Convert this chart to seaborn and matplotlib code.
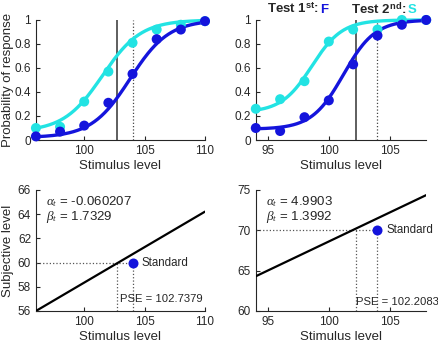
import numpy as np
import pandas as pd
import matplotlib
matplotlib.use('Agg')
import matplotlib.pyplot as plt
import seaborn as sns

# colours of the two presentation orders
col_first = '#1414DC'   # Test 1st: F
col_second = '#22E3E3'  # Test 2nd: S

# top left panel: proportions
x_left = [96, 98, 100, 102, 104, 106, 108, 110]
p_left_first = [0.03, 0.07, 0.12, 0.31, 0.55, 0.84, 0.92, 0.99]
p_left_second = [0.10, 0.11, 0.32, 0.57, 0.81, 0.92, 0.96, 0.99]
# fitted logistic params: (midpoint, spread, guess)
fit_left_first = (103.8, 1.6, 0.02)
fit_left_second = (101.5, 1.6, 0.07)

# top right panel
x_right = [94, 96, 98, 100, 102, 104, 106, 108]
p_right_first = [0.10, 0.075, 0.19, 0.33, 0.63, 0.87, 0.96, 1.0]
p_right_second = [0.26, 0.34, 0.49, 0.82, 0.92, 0.92, 1.0, 1.0]
fit_right_first = (101.2, 1.3, 0.09)
fit_right_second = (98.6, 1.25, 0.23)

# bottom panels: transducer line
standard_x = 104
pse_left, pse_right = 102.7379, 102.2083
subj_left, subj_right = 60, 70
line_left = (56.0, 0.586)    # value at left xlim, slope
line_right = (64.3, 0.718)
alpha_left, beta_left = '-0.060207', '1.7329'
alpha_right, beta_right = '4.9903', '1.3992'

xlim_left = (96, 110)
xlim_right = (94, 108)

sns.set_style('ticks')
plt.rcParams['font.family'] = ['Liberation Sans', 'DejaVu Sans']
plt.rcParams['mathtext.fontset'] = 'custom'
plt.rcParams['mathtext.rm'] = 'Liberation Sans'
plt.rcParams['mathtext.it'] = 'Liberation Serif:italic'
plt.rcParams['mathtext.bf'] = 'Liberation Sans:bold'
plt.rcParams['xtick.direction'] = 'in'
plt.rcParams['ytick.direction'] = 'in'
plt.rcParams['xtick.major.size'] = 3
plt.rcParams['ytick.major.size'] = 3
plt.rcParams['xtick.labelsize'] = 8.5
plt.rcParams['ytick.labelsize'] = 8.5
plt.rcParams['axes.labelsize'] = 9.5
plt.rcParams['axes.linewidth'] = 0.8

fig = plt.figure(figsize=(4.38, 3.44), dpi=100)
ax_tl = fig.add_axes([0.082, 0.593, 0.386, 0.349])
ax_tr = fig.add_axes([0.584, 0.593, 0.389, 0.349])
ax_bl = fig.add_axes([0.082, 0.096, 0.386, 0.352])
ax_br = fig.add_axes([0.584, 0.096, 0.389, 0.352])


def logistic(x, params):
    mid, spread, guess = params
    return guess + (1 - guess) / (1 + np.exp(-(x - mid) / spread))


def psych_panel(ax, xs, p1, p2, f1, f2, xlim, pse):
    grid = np.linspace(xlim[0], xlim[1], 200)
    curves = pd.concat([
        pd.DataFrame({'x': grid, 'p': logistic(grid, f2), 'order': 'second'}),
        pd.DataFrame({'x': grid, 'p': logistic(grid, f1), 'order': 'first'}),
    ])
    pts = pd.concat([
        pd.DataFrame({'x': xs, 'p': p2, 'order': 'second'}),
        pd.DataFrame({'x': xs, 'p': p1, 'order': 'first'}),
    ])
    pal = {'first': col_first, 'second': col_second}
    ax.axvline(pse, color='#333333', lw=1.1, zorder=1)
    ax.axvline(standard_x, color='#444444', lw=0.9, ls=':', zorder=1)
    sns.lineplot(data=curves, x='x', y='p', hue='order', palette=pal, lw=2.4,
                 legend=False, ax=ax, zorder=3, clip_on=False)
    sns.scatterplot(data=pts, x='x', y='p', hue='order', palette=pal, s=52,
                    edgecolor=None, linewidth=0, legend=False, ax=ax, zorder=4,
                    clip_on=False)
    ax.set_xlim(*xlim)
    ax.set_ylim(0, 1)
    ax.set_yticks([0, 0.2, 0.4, 0.6, 0.8, 1])
    ax.set_yticklabels(['0', '0.2', '0.4', '0.6', '0.8', '1'])
    ax.set_xlabel('Stimulus level', labelpad=2)
    ax.set_ylabel('')
    sns.despine(ax=ax)


def line_panel(ax, xlim, line, pse, subj, alpha, beta, ylim, yticks, pse_xy):
    grid = np.array(xlim, dtype=float)
    yline = line[0] + line[1] * (grid - xlim[0])
    sns.lineplot(x=grid, y=yline, color='black', lw=1.6, ax=ax, zorder=3)
    ax.plot([xlim[0], standard_x], [subj, subj], ls=':', color='#555555', lw=0.9)
    ax.plot([pse, pse], [ylim[0], subj], ls=':', color='#555555', lw=0.9)
    ax.plot([standard_x, standard_x], [ylim[0], subj], ls=':', color='#555555', lw=0.9)
    sns.scatterplot(x=[standard_x], y=[subj], color=col_first, s=52,
                    edgecolor=None, linewidth=0, ax=ax, zorder=4)
    ax.text(standard_x + 0.75, subj, 'Standard', fontsize=8.3, va='center')
    ax.text(pse_xy[0], pse_xy[1], 'PSE = %s' % f'{pse:.4f}', fontsize=8.1,
            va='center')
    ax.text(0.06, 0.90, r'$\alpha_t$ = ' + alpha, transform=ax.transAxes,
            fontsize=9.5, va='center')
    ax.text(0.06, 0.78, r'$\beta_t$ = ' + beta, transform=ax.transAxes,
            fontsize=9.5, va='center')
    ax.set_xlim(*xlim)
    ax.set_ylim(*ylim)
    ax.set_yticks(yticks)
    ax.set_xlabel('Stimulus level', labelpad=2)
    sns.despine(ax=ax)


psych_panel(ax_tl, x_left, p_left_first, p_left_second,
            fit_left_first, fit_left_second, xlim_left, pse_left)
ax_tl.set_xticks([100, 105, 110])
ax_tl.set_ylabel('Probability of response')
ax_tl.yaxis.set_label_coords(-0.128, 0.5)

psych_panel(ax_tr, x_right, p_right_first, p_right_second,
            fit_right_first, fit_right_second, xlim_right, pse_right)
ax_tr.set_xticks([95, 100, 105])

line_panel(ax_bl, xlim_left, line_left, pse_left, subj_left, alpha_left,
           beta_left, (56, 66), [56, 58, 60, 62, 64, 66], (103.0, 57.0))
ax_bl.set_xticks([100, 105, 110])
ax_bl.set_ylabel('Subjective level')
ax_bl.yaxis.set_label_coords(-0.128, 0.5)

line_panel(ax_br, xlim_right, line_right, pse_right, subj_right, alpha_right,
           beta_right, (60, 75), [60, 65, 70, 75], (102.2, 61.1))
ax_br.set_xticks([95, 100, 105])

# header above top right panel
t1 = fig.text(267 / 438, 1 - 13 / 344, r'Test 1$^{\mathbf{st}}$: ',
              fontsize=9.5, fontweight='bold', va='baseline')
ax_tr.annotate('F', xy=(1, 0), xycoords=t1, va='bottom', fontsize=9.5,
               fontweight='bold', color=col_first, annotation_clip=False)
t2 = fig.text(351 / 438, 1 - 13 / 344, r'Test 2$^{\mathbf{nd}}$: ',
              fontsize=9.5, fontweight='bold', va='baseline')
ax_tr.annotate('S', xy=(1, 0), xycoords=t2, va='bottom', fontsize=9.5,
               fontweight='bold', color=col_second, annotation_clip=False)

fig.savefig('out.png', dpi=100)
